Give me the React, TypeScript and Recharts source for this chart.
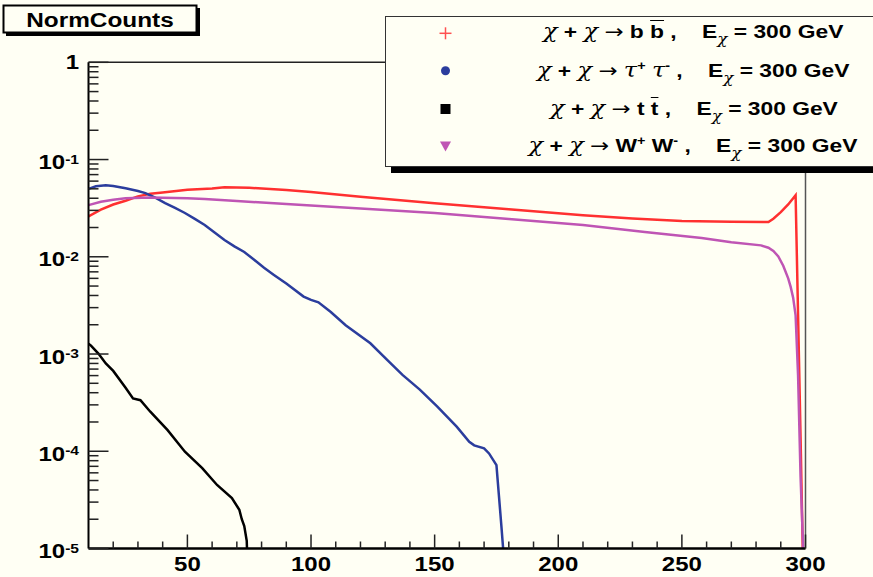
import React from "react";
import { LineChart, Line, XAxis, YAxis, ReferenceLine } from "recharts";

const BG = "#fffff4";
const FONT = '"Liberation Sans", Arial, Helvetica, sans-serif';
const GREEK = '"DejaVu Serif", "Liberation Serif", serif';

// energy (GeV) and normalised counts for each channel
const bbX = [10, 15, 20, 25, 30, 35, 40, 50, 60, 65, 75, 90, 100, 120, 150, 180, 210, 230, 250, 270, 285, 287, 290, 293, 296, 297, 298, 299, 300];
const bbY = [0.026, 0.0305, 0.0345, 0.0377, 0.0418, 0.0445, 0.0458, 0.0488, 0.0505, 0.052, 0.0513, 0.0486, 0.0463, 0.0414, 0.0355, 0.0308, 0.0268, 0.0248, 0.0233, 0.0229, 0.0228, 0.0246, 0.0288, 0.0345, 0.043, 0.0025, 1.4e-4, 7e-6, 1e-7];

const tauX = [10, 13, 17, 20, 25, 30, 33, 37, 41, 45, 49, 53, 57, 61, 65, 69, 73, 77, 81, 85, 90, 97, 100, 103, 108, 114, 124, 131, 137, 144, 151, 159, 164, 166, 170, 172, 175, 176, 177, 178, 179];
const tauY = [0.05, 0.053, 0.0543, 0.0535, 0.0506, 0.0475, 0.0452, 0.0405, 0.0357, 0.0318, 0.0282, 0.0245, 0.0212, 0.0178, 0.0149, 0.0128, 0.0112, 0.0093, 0.0077, 0.0065, 0.0053, 0.0039, 0.0036, 0.0034, 0.0027, 0.00198, 0.00129, 8.6e-4, 6.1e-4, 4.3e-4, 2.9e-4, 1.78e-4, 1.25e-4, 1.15e-4, 1.07e-4, 9.5e-5, 7.2e-5, 3.5e-5, 1.7e-5, 8e-6, 1e-7];

const ttX = [10, 11, 14, 17, 20, 25, 28, 31, 35, 42, 49, 56, 62, 68, 71, 72, 73, 74, 75];
const ttY = [1.28e-3, 1.22e-3, 1.01e-3, 8.0e-4, 6.7e-4, 4.5e-4, 3.5e-4, 3.35e-4, 2.55e-4, 1.65e-4, 9.9e-5, 6.7e-5, 4.5e-5, 3.3e-5, 2.5e-5, 2.0e-5, 1.7e-5, 1.2e-5, 2e-6];

const wwX = [10, 15, 20, 25, 35, 50, 57, 70, 90, 120, 150, 180, 210, 235, 258, 270, 282, 285, 287, 289, 291, 293, 294, 295, 296, 297, 298, 299, 300];
const wwY = [0.034, 0.0368, 0.0385, 0.0399, 0.0408, 0.0399, 0.0392, 0.0374, 0.0349, 0.0313, 0.0282, 0.0245, 0.0212, 0.018, 0.0156, 0.0141, 0.0131, 0.0124, 0.0115, 0.0101, 0.0081, 0.006, 0.0049, 0.0038, 0.0025, 6e-4, 5.5e-5, 1.1e-5, 1e-7];

const yMajorTicks = [1e-5, 1e-4, 1e-3, 1e-2, 1e-1, 1];
const yTickLabels = [["10", "-5"], ["10", "-4"], ["10", "-3"], ["10", "-2"], ["10", "-1"], ["1", ""]];
const yMinorSteps = [2, 3, 4, 5, 6, 7, 8, 9];
const xMajorTicks = [50, 100, 150, 200, 250, 300];
const xTickLabels = ["50", "100", "150", "200", "250", "300"];
const xMinorTicks = [20, 30, 40, 60, 70, 80, 90, 110, 120, 130, 140, 160, 170, 180, 190, 210, 220, 230, 240, 260, 270, 280, 290];

const toPoints = (xs: number[], ys: number[]) => xs.map((x, i) => ({ x, y: ys[i] }));

const series = [
  { name: "bb", data: toPoints(bbX, bbY), color: "#ff3030" },
  { name: "tau", data: toPoints(tauX, tauY), color: "#2b3d9d" },
  { name: "tt", data: toPoints(ttX, ttY), color: "#000000" },
  { name: "ww", data: toPoints(wwX, wwY), color: "#bf55b4" },
];

const yTicks = yMajorTicks.flatMap((m, i) =>
  i < yMajorTicks.length - 1 ? [m, ...yMinorSteps.map((s) => s * m)] : [m]
);
const xTicks = [...xMinorTicks, ...xMajorTicks].sort((a, b) => a - b);

const YTick = ({ x, y, payload }: any) => {
  const v = payload.value;
  const i = yMajorTicks.findIndex((m) => Math.abs(m - v) / m < 1e-6);
  const major = i >= 0;
  const [base, exp] = major ? yTickLabels[i] : ["", ""];
  return (
    <g>
      <line x1={x} x2={x + (major ? 20 : 10)} y1={y} y2={y} stroke="#222" strokeWidth={1.5} />
      {major && (
        <text
          transform={`translate(${x - 9.5},${y + (exp ? 9.5 : 7)}) scale(1.2,1)`}
          textAnchor="end"
          fontFamily={FONT}
          fontWeight="bold"
          fontSize={20}
          fill="#000"
        >
          {base}
          {exp && (
            <tspan dy={-5.5} fontSize={13}>
              {exp}
            </tspan>
          )}
        </text>
      )}
    </g>
  );
};

const XTick = ({ x, y, payload }: any) => {
  const i = xMajorTicks.indexOf(payload.value);
  const major = i >= 0;
  return (
    <g>
      <line x1={x} x2={x} y1={y} y2={y - (major ? 14 : 7)} stroke="#222" strokeWidth={1.5} />
      {major && (
        <text
          transform={`translate(${x},${y + 22}) scale(1.2,1)`}
          textAnchor="middle"
          fontFamily={FONT}
          fontWeight="bold"
          fontSize={20}
          fill="#000"
        >
          {xTickLabels[i]}
        </text>
      )}
    </g>
  );
};

const greek: React.CSSProperties = { fontFamily: GREEK, fontWeight: "normal", fontStyle: "italic", fontSize: 20 };
const arrow: React.CSSProperties = { fontFamily: '"DejaVu Sans", sans-serif', fontWeight: "normal", fontSize: 19 };
const sup: React.CSSProperties = { fontSize: 12, verticalAlign: "super", lineHeight: 0 };
const sub: React.CSSProperties = { fontFamily: GREEK, fontWeight: "normal", fontStyle: "italic", fontSize: 14, verticalAlign: "-6px", lineHeight: 0 };
const bar: React.CSSProperties = { textDecoration: "overline" };

const Chi = () => <span style={greek}>χ</span>;
const Arrow = () => <span style={arrow}>→</span>;
const Tail = () => (
  <>
    {",\u00a0\u00a0\u00a0\u00a0E"}
    <span style={sub}>χ</span>
    {" = 300 GeV"}
  </>
);

const legendRows = [
  { top: 2.7, text: (<><Chi /> + <Chi /> <Arrow /> b <span style={bar}>b</span> <Tail /></>) },
  { top: 41.1, text: (<><Chi /> + <Chi /> <Arrow /> <span style={greek}>τ</span><span style={sup}>+</span> <span style={greek}>τ</span><span style={sup}>-</span> <Tail /></>) },
  { top: 79.4, text: (<><Chi /> + <Chi /> <Arrow /> t <span style={bar}>t</span> <Tail /></>) },
  { top: 116.1, text: (<><Chi /> + <Chi /> <Arrow /> W<span style={sup}>+</span> W<span style={sup}>-</span> <Tail /></>) },
];

export default function App() {
  return (
    <div
      style={{
        position: "absolute",
        left: 0,
        top: 0,
        width: 873,
        height: 577,
        background: BG,
        overflow: "hidden",
        fontFamily: FONT,
      }}
    >
      <LineChart width={873} height={577} margin={{ top: 62.3, right: 67.5, bottom: 0, left: 0 }}>
        <XAxis
          type="number"
          dataKey="x"
          domain={[10, 300]}
          allowDataOverflow
          ticks={xTicks}
          interval={0}
          tickSize={0}
          tickMargin={0}
          tickLine={false}
          tick={(p: any) => <XTick {...p} />}
          axisLine={{ stroke: "#000", strokeWidth: 2.5 }}
          height={28.5}
        />
        <YAxis
          type="number"
          scale="log"
          domain={[1e-5, 1]}
          allowDataOverflow
          ticks={yTicks}
          interval={0}
          tickSize={0}
          tickMargin={0}
          tickLine={false}
          tick={(p: any) => <YTick {...p} />}
          axisLine={{ stroke: "#000", strokeWidth: 2 }}
          width={88.5}
        />
        <ReferenceLine y={1} stroke="#222" strokeWidth={1.5} ifOverflow="visible" />
        <ReferenceLine x={300} stroke="#555" strokeWidth={1.5} ifOverflow="visible" />
        {series.map((s) => (
          <Line
            key={s.name}
            data={s.data}
            dataKey="y"
            type="linear"
            stroke={s.color}
            strokeWidth={2.5}
            dot={false}
            activeDot={false}
            isAnimationActive={false}
          />
        ))}
      </LineChart>

      {/* title pave */}
      <svg width={210} height={45} style={{ position: "absolute", left: 0, top: 0 }}>
        <rect x={6} y={8} width={194} height={28} fill="#000" />
        <rect x={3.5} y={5.5} width={193} height={27} fill={BG} stroke="#000" strokeWidth={2} />
        <text
          transform="translate(100,27) scale(1.25,1)"
          textAnchor="middle"
          fontFamily={FONT}
          fontWeight="bold"
          fontSize={19.5}
          fill="#000"
        >
          NormCounts
        </text>
      </svg>

      <div
        style={{
          position: "absolute",
          left: 385,
          top: 15.5,
          width: 500,
          height: 151.5,
          boxSizing: "border-box",
          border: "1.5px solid #333",
          boxShadow: "6px 6px 0 #000",
          background: BG,
          fontWeight: "bold",
          fontSize: 19,
        }}
      >
        <svg width={500} height={150} style={{ position: "absolute", left: 0, top: 0 }}>
          <g stroke="#ff5050" strokeWidth={1.5}>
            <line x1={53.5} x2={65.5} y1={16.3} y2={16.3} />
            <line x1={59.5} x2={59.5} y1={10.3} y2={22.3} />
          </g>
          <circle cx={59.5} cy={53.7} r={4.5} fill="#2b3d9d" />
          <rect x={54.5} y={87} width={10} height={10} fill="#000" />
          <polygon points="54,124.5 65,124.5 59.5,134.5" fill="#bf55b4" />
        </svg>
        {legendRows.map((r, i) => (
          <div
            key={i}
            style={{
              position: "absolute",
              left: 57.5,
              width: 500,
              top: r.top,
              lineHeight: "24px",
              textAlign: "center",
              whiteSpace: "nowrap",
            }}
          >
            <span style={{ display: "inline-block", transform: "scaleX(1.2)" }}>{r.text}</span>
          </div>
        ))}
      </div>
    </div>
  );
}
